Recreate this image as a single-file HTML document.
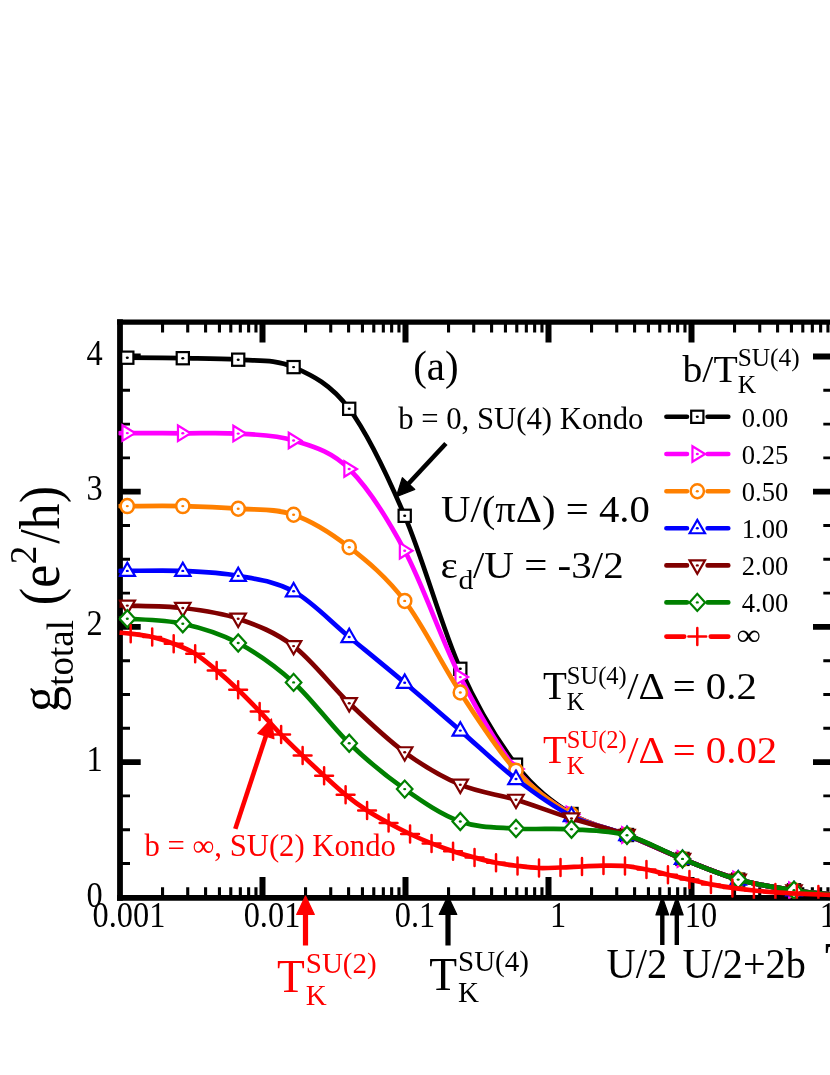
<!DOCTYPE html><html><head><meta charset="utf-8"><style>html,body{margin:0;padding:0;background:#fff}svg{display:block;will-change:transform}</style></head><body>
<svg width="830" height="1075" viewBox="0 0 830 1075" xml:space="preserve" font-family="Liberation Serif, serif">
<rect width="830" height="1075" fill="#fff"/>
<path d="M120.00 319.30 V900.70" stroke="#000" stroke-width="5.8"/><path d="M117.10 322.10 H840" stroke="#000" stroke-width="5.4"/><path d="M117.10 897.80 H840" stroke="#000" stroke-width="5.8"/><path d="M162.55 322 V332.4 M162.55 887.3 V898" stroke="#000" stroke-width="3.1"/><path d="M187.73 322 V332.4 M187.73 887.3 V898" stroke="#000" stroke-width="3.1"/><path d="M205.59 322 V332.4 M205.59 887.3 V898" stroke="#000" stroke-width="3.1"/><path d="M219.45 322 V332.4 M219.45 887.3 V898" stroke="#000" stroke-width="3.1"/><path d="M230.78 322 V332.4 M230.78 887.3 V898" stroke="#000" stroke-width="3.1"/><path d="M240.35 322 V332.4 M240.35 887.3 V898" stroke="#000" stroke-width="3.1"/><path d="M248.64 322 V332.4 M248.64 887.3 V898" stroke="#000" stroke-width="3.1"/><path d="M255.96 322 V332.4 M255.96 887.3 V898" stroke="#000" stroke-width="3.1"/><path d="M262.50 322 V342.5 M262.50 877.1 V898" stroke="#000" stroke-width="6"/><path d="M305.55 322 V332.4 M305.55 887.3 V898" stroke="#000" stroke-width="3.1"/><path d="M330.73 322 V332.4 M330.73 887.3 V898" stroke="#000" stroke-width="3.1"/><path d="M348.59 322 V332.4 M348.59 887.3 V898" stroke="#000" stroke-width="3.1"/><path d="M362.45 322 V332.4 M362.45 887.3 V898" stroke="#000" stroke-width="3.1"/><path d="M373.78 322 V332.4 M373.78 887.3 V898" stroke="#000" stroke-width="3.1"/><path d="M383.35 322 V332.4 M383.35 887.3 V898" stroke="#000" stroke-width="3.1"/><path d="M391.64 322 V332.4 M391.64 887.3 V898" stroke="#000" stroke-width="3.1"/><path d="M398.96 322 V332.4 M398.96 887.3 V898" stroke="#000" stroke-width="3.1"/><path d="M405.50 322 V342.5 M405.50 877.1 V898" stroke="#000" stroke-width="6"/><path d="M448.55 322 V332.4 M448.55 887.3 V898" stroke="#000" stroke-width="3.1"/><path d="M473.73 322 V332.4 M473.73 887.3 V898" stroke="#000" stroke-width="3.1"/><path d="M491.59 322 V332.4 M491.59 887.3 V898" stroke="#000" stroke-width="3.1"/><path d="M505.45 322 V332.4 M505.45 887.3 V898" stroke="#000" stroke-width="3.1"/><path d="M516.78 322 V332.4 M516.78 887.3 V898" stroke="#000" stroke-width="3.1"/><path d="M526.35 322 V332.4 M526.35 887.3 V898" stroke="#000" stroke-width="3.1"/><path d="M534.64 322 V332.4 M534.64 887.3 V898" stroke="#000" stroke-width="3.1"/><path d="M541.96 322 V332.4 M541.96 887.3 V898" stroke="#000" stroke-width="3.1"/><path d="M548.50 322 V342.5 M548.50 877.1 V898" stroke="#000" stroke-width="6"/><path d="M591.55 322 V332.4 M591.55 887.3 V898" stroke="#000" stroke-width="3.1"/><path d="M616.73 322 V332.4 M616.73 887.3 V898" stroke="#000" stroke-width="3.1"/><path d="M634.59 322 V332.4 M634.59 887.3 V898" stroke="#000" stroke-width="3.1"/><path d="M648.45 322 V332.4 M648.45 887.3 V898" stroke="#000" stroke-width="3.1"/><path d="M659.78 322 V332.4 M659.78 887.3 V898" stroke="#000" stroke-width="3.1"/><path d="M669.35 322 V332.4 M669.35 887.3 V898" stroke="#000" stroke-width="3.1"/><path d="M677.64 322 V332.4 M677.64 887.3 V898" stroke="#000" stroke-width="3.1"/><path d="M684.96 322 V332.4 M684.96 887.3 V898" stroke="#000" stroke-width="3.1"/><path d="M691.50 322 V342.5 M691.50 877.1 V898" stroke="#000" stroke-width="6"/><path d="M734.55 322 V332.4 M734.55 887.3 V898" stroke="#000" stroke-width="3.1"/><path d="M759.73 322 V332.4 M759.73 887.3 V898" stroke="#000" stroke-width="3.1"/><path d="M777.59 322 V332.4 M777.59 887.3 V898" stroke="#000" stroke-width="3.1"/><path d="M791.45 322 V332.4 M791.45 887.3 V898" stroke="#000" stroke-width="3.1"/><path d="M802.78 322 V332.4 M802.78 887.3 V898" stroke="#000" stroke-width="3.1"/><path d="M812.35 322 V332.4 M812.35 887.3 V898" stroke="#000" stroke-width="3.1"/><path d="M820.64 322 V332.4 M820.64 887.3 V898" stroke="#000" stroke-width="3.1"/><path d="M827.96 322 V332.4 M827.96 887.3 V898" stroke="#000" stroke-width="3.1"/><path d="M834.50 322 V342.5 M834.50 877.1 V898" stroke="#000" stroke-width="6"/><path d="M120 863.50 H130.0 M823.3 863.50 H835" stroke="#000" stroke-width="2.9"/><path d="M120 829.70 H130.0 M823.3 829.70 H835" stroke="#000" stroke-width="2.9"/><path d="M120 795.90 H130.0 M823.3 795.90 H835" stroke="#000" stroke-width="2.9"/><path d="M120 762.10 H140.7 M813.0 762.10 H835" stroke="#000" stroke-width="5.8"/><path d="M120 728.30 H130.0 M823.3 728.30 H835" stroke="#000" stroke-width="2.9"/><path d="M120 694.50 H130.0 M823.3 694.50 H835" stroke="#000" stroke-width="2.9"/><path d="M120 660.70 H130.0 M823.3 660.70 H835" stroke="#000" stroke-width="2.9"/><path d="M120 626.90 H140.7 M813.0 626.90 H835" stroke="#000" stroke-width="5.8"/><path d="M120 593.10 H130.0 M823.3 593.10 H835" stroke="#000" stroke-width="2.9"/><path d="M120 559.30 H130.0 M823.3 559.30 H835" stroke="#000" stroke-width="2.9"/><path d="M120 525.50 H130.0 M823.3 525.50 H835" stroke="#000" stroke-width="2.9"/><path d="M120 491.70 H140.7 M813.0 491.70 H835" stroke="#000" stroke-width="5.8"/><path d="M120 457.90 H130.0 M823.3 457.90 H835" stroke="#000" stroke-width="2.9"/><path d="M120 424.10 H130.0 M823.3 424.10 H835" stroke="#000" stroke-width="2.9"/><path d="M120 390.30 H130.0 M823.3 390.30 H835" stroke="#000" stroke-width="2.9"/><path d="M120 356.50 H140.7 M813.0 356.50 H835" stroke="#000" stroke-width="5.8"/>
<text transform="translate(129.00 927.40) scale(0.9250 1.0000)" font-size="35.00" fill="#000" text-anchor="middle" >0.001</text>
<text transform="translate(272.00 927.40) scale(0.9250 1.0000)" font-size="35.00" fill="#000" text-anchor="middle" >0.01</text>
<text transform="translate(415.00 927.40) scale(0.9250 1.0000)" font-size="35.00" fill="#000" text-anchor="middle" >0.1</text>
<text transform="translate(558.00 927.40) scale(0.9250 1.0000)" font-size="35.00" fill="#000" text-anchor="middle" >1</text>
<text transform="translate(701.00 927.40) scale(0.9250 1.0000)" font-size="35.00" fill="#000" text-anchor="middle" >10</text>
<text transform="translate(844.00 927.40) scale(0.9250 1.0000)" font-size="35.00" fill="#000" text-anchor="middle" >100</text>
<text transform="translate(102.80 906.60) scale(0.9250 1.0000)" font-size="35.00" fill="#000" text-anchor="end" >0</text>
<text transform="translate(102.80 770.60) scale(0.9250 1.0000)" font-size="35.00" fill="#000" text-anchor="end" >1</text>
<text transform="translate(102.80 635.40) scale(0.9250 1.0000)" font-size="35.00" fill="#000" text-anchor="end" >2</text>
<text transform="translate(102.80 500.20) scale(0.9250 1.0000)" font-size="35.00" fill="#000" text-anchor="end" >3</text>
<text transform="translate(102.80 365.00) scale(0.9250 1.0000)" font-size="35.00" fill="#000" text-anchor="end" >4</text>
<clipPath id="pc"><rect x="118.5" y="320" width="720" height="578.7"/></clipPath><g clip-path="url(#pc)">
<path d="M119.50 357.70 C120.80 357.70 116.75 357.62 127.30 357.70 C137.85 357.78 164.32 357.87 182.80 358.20 C201.28 358.53 219.73 358.22 238.20 359.70 C256.67 361.18 275.10 358.92 293.60 367.10 C312.10 375.28 330.68 384.02 349.20 408.80 C367.72 433.58 386.18 472.47 404.70 515.80 C423.22 559.13 441.75 627.32 460.30 668.80 C478.85 710.28 497.47 740.50 516.00 764.70 C534.53 788.90 553.00 802.28 571.50 814.00 C590.00 825.72 608.50 827.52 627.00 835.00 C645.50 842.48 663.97 851.47 682.50 858.90 C701.03 866.33 719.62 874.37 738.20 879.60 C756.78 884.83 775.45 887.52 794.00 890.30 C812.55 893.08 840.25 895.30 849.50 896.30" fill="none" stroke="#000000" stroke-width="4.7" stroke-linejoin="round"/>
<rect x="121.20" y="351.60" width="12.20" height="12.20" fill="#fff" stroke="#000000" stroke-width="2.2"/><ellipse cx="127.30" cy="357.70" rx="1.55" ry="1.2" fill="#000000"/>
<rect x="176.70" y="352.10" width="12.20" height="12.20" fill="#fff" stroke="#000000" stroke-width="2.2"/><ellipse cx="182.80" cy="358.20" rx="1.55" ry="1.2" fill="#000000"/>
<rect x="232.10" y="353.60" width="12.20" height="12.20" fill="#fff" stroke="#000000" stroke-width="2.2"/><ellipse cx="238.20" cy="359.70" rx="1.55" ry="1.2" fill="#000000"/>
<rect x="287.50" y="361.00" width="12.20" height="12.20" fill="#fff" stroke="#000000" stroke-width="2.2"/><ellipse cx="293.60" cy="367.10" rx="1.55" ry="1.2" fill="#000000"/>
<rect x="343.10" y="402.70" width="12.20" height="12.20" fill="#fff" stroke="#000000" stroke-width="2.2"/><ellipse cx="349.20" cy="408.80" rx="1.55" ry="1.2" fill="#000000"/>
<rect x="398.60" y="509.70" width="12.20" height="12.20" fill="#fff" stroke="#000000" stroke-width="2.2"/><ellipse cx="404.70" cy="515.80" rx="1.55" ry="1.2" fill="#000000"/>
<rect x="454.20" y="662.70" width="12.20" height="12.20" fill="#fff" stroke="#000000" stroke-width="2.2"/><ellipse cx="460.30" cy="668.80" rx="1.55" ry="1.2" fill="#000000"/>
<rect x="509.90" y="758.60" width="12.20" height="12.20" fill="#fff" stroke="#000000" stroke-width="2.2"/><ellipse cx="516.00" cy="764.70" rx="1.55" ry="1.2" fill="#000000"/>
<rect x="565.40" y="807.90" width="12.20" height="12.20" fill="#fff" stroke="#000000" stroke-width="2.2"/><ellipse cx="571.50" cy="814.00" rx="1.55" ry="1.2" fill="#000000"/>
<rect x="620.90" y="828.90" width="12.20" height="12.20" fill="#fff" stroke="#000000" stroke-width="2.2"/><ellipse cx="627.00" cy="835.00" rx="1.55" ry="1.2" fill="#000000"/>
<rect x="676.40" y="852.80" width="12.20" height="12.20" fill="#fff" stroke="#000000" stroke-width="2.2"/><ellipse cx="682.50" cy="858.90" rx="1.55" ry="1.2" fill="#000000"/>
<rect x="732.10" y="873.50" width="12.20" height="12.20" fill="#fff" stroke="#000000" stroke-width="2.2"/><ellipse cx="738.20" cy="879.60" rx="1.55" ry="1.2" fill="#000000"/>
<rect x="787.90" y="884.20" width="12.20" height="12.20" fill="#fff" stroke="#000000" stroke-width="2.2"/><ellipse cx="794.00" cy="890.30" rx="1.55" ry="1.2" fill="#000000"/>
<path d="M119.50 433.10 C120.80 433.10 116.75 433.07 127.30 433.10 C137.85 433.13 164.32 433.22 182.80 433.30 C201.28 433.38 219.73 432.40 238.20 433.60 C256.67 434.80 275.10 434.60 293.60 440.50 C312.10 446.40 330.68 450.63 349.20 469.00 C367.72 487.37 386.18 516.02 404.70 550.70 C423.22 585.38 441.75 640.72 460.30 677.10 C478.85 713.48 497.47 746.10 516.00 769.00 C534.53 791.90 553.00 803.50 571.50 814.50 C590.00 825.50 608.50 827.60 627.00 835.00 C645.50 842.40 663.97 851.47 682.50 858.90 C701.03 866.33 719.62 874.37 738.20 879.60 C756.78 884.83 775.45 887.52 794.00 890.30 C812.55 893.08 840.25 895.30 849.50 896.30" fill="none" stroke="#ff00ff" stroke-width="4.7" stroke-linejoin="round"/>
<path d="M122.45 425.30 L135.10 433.10 L122.45 440.90 Z" fill="#fff" stroke="#ff00ff" stroke-width="2.2" stroke-linejoin="miter"/><ellipse cx="127.30" cy="433.10" rx="1.55" ry="1.2" fill="#ff00ff"/>
<path d="M177.95 425.50 L190.60 433.30 L177.95 441.10 Z" fill="#fff" stroke="#ff00ff" stroke-width="2.2" stroke-linejoin="miter"/><ellipse cx="182.80" cy="433.30" rx="1.55" ry="1.2" fill="#ff00ff"/>
<path d="M233.35 425.80 L246.00 433.60 L233.35 441.40 Z" fill="#fff" stroke="#ff00ff" stroke-width="2.2" stroke-linejoin="miter"/><ellipse cx="238.20" cy="433.60" rx="1.55" ry="1.2" fill="#ff00ff"/>
<path d="M288.75 432.70 L301.40 440.50 L288.75 448.30 Z" fill="#fff" stroke="#ff00ff" stroke-width="2.2" stroke-linejoin="miter"/><ellipse cx="293.60" cy="440.50" rx="1.55" ry="1.2" fill="#ff00ff"/>
<path d="M344.35 461.20 L357.00 469.00 L344.35 476.80 Z" fill="#fff" stroke="#ff00ff" stroke-width="2.2" stroke-linejoin="miter"/><ellipse cx="349.20" cy="469.00" rx="1.55" ry="1.2" fill="#ff00ff"/>
<path d="M399.85 542.90 L412.50 550.70 L399.85 558.50 Z" fill="#fff" stroke="#ff00ff" stroke-width="2.2" stroke-linejoin="miter"/><ellipse cx="404.70" cy="550.70" rx="1.55" ry="1.2" fill="#ff00ff"/>
<path d="M455.45 669.30 L468.10 677.10 L455.45 684.90 Z" fill="#fff" stroke="#ff00ff" stroke-width="2.2" stroke-linejoin="miter"/><ellipse cx="460.30" cy="677.10" rx="1.55" ry="1.2" fill="#ff00ff"/>
<path d="M511.15 761.20 L523.80 769.00 L511.15 776.80 Z" fill="#fff" stroke="#ff00ff" stroke-width="2.2" stroke-linejoin="miter"/><ellipse cx="516.00" cy="769.00" rx="1.55" ry="1.2" fill="#ff00ff"/>
<path d="M566.65 806.70 L579.30 814.50 L566.65 822.30 Z" fill="#fff" stroke="#ff00ff" stroke-width="2.2" stroke-linejoin="miter"/><ellipse cx="571.50" cy="814.50" rx="1.55" ry="1.2" fill="#ff00ff"/>
<path d="M622.15 827.20 L634.80 835.00 L622.15 842.80 Z" fill="#fff" stroke="#ff00ff" stroke-width="2.2" stroke-linejoin="miter"/><ellipse cx="627.00" cy="835.00" rx="1.55" ry="1.2" fill="#ff00ff"/>
<path d="M677.65 851.10 L690.30 858.90 L677.65 866.70 Z" fill="#fff" stroke="#ff00ff" stroke-width="2.2" stroke-linejoin="miter"/><ellipse cx="682.50" cy="858.90" rx="1.55" ry="1.2" fill="#ff00ff"/>
<path d="M733.35 871.80 L746.00 879.60 L733.35 887.40 Z" fill="#fff" stroke="#ff00ff" stroke-width="2.2" stroke-linejoin="miter"/><ellipse cx="738.20" cy="879.60" rx="1.55" ry="1.2" fill="#ff00ff"/>
<path d="M789.15 882.50 L801.80 890.30 L789.15 898.10 Z" fill="#fff" stroke="#ff00ff" stroke-width="2.2" stroke-linejoin="miter"/><ellipse cx="794.00" cy="890.30" rx="1.55" ry="1.2" fill="#ff00ff"/>
<path d="M119.50 506.10 C120.80 506.10 116.75 506.10 127.30 506.10 C137.85 506.10 164.32 505.67 182.80 506.10 C201.28 506.53 219.73 507.27 238.20 508.70 C256.67 510.13 275.10 508.28 293.60 514.70 C312.10 521.12 330.68 532.83 349.20 547.20 C367.72 561.57 386.18 576.68 404.70 600.90 C423.22 625.12 441.75 664.20 460.30 692.50 C478.85 720.80 497.47 750.32 516.00 770.70 C534.53 791.08 553.00 804.08 571.50 814.80 C590.00 825.52 608.50 827.65 627.00 835.00 C645.50 842.35 663.97 851.47 682.50 858.90 C701.03 866.33 719.62 874.37 738.20 879.60 C756.78 884.83 775.45 887.52 794.00 890.30 C812.55 893.08 840.25 895.30 849.50 896.30" fill="none" stroke="#ff8000" stroke-width="4.7" stroke-linejoin="round"/>
<ellipse cx="127.30" cy="506.10" rx="6.6" ry="7.0" fill="#fff" stroke="#ff8000" stroke-width="2.5"/><ellipse cx="127.30" cy="506.10" rx="1.55" ry="1.2" fill="#ff8000"/>
<ellipse cx="182.80" cy="506.10" rx="6.6" ry="7.0" fill="#fff" stroke="#ff8000" stroke-width="2.5"/><ellipse cx="182.80" cy="506.10" rx="1.55" ry="1.2" fill="#ff8000"/>
<ellipse cx="238.20" cy="508.70" rx="6.6" ry="7.0" fill="#fff" stroke="#ff8000" stroke-width="2.5"/><ellipse cx="238.20" cy="508.70" rx="1.55" ry="1.2" fill="#ff8000"/>
<ellipse cx="293.60" cy="514.70" rx="6.6" ry="7.0" fill="#fff" stroke="#ff8000" stroke-width="2.5"/><ellipse cx="293.60" cy="514.70" rx="1.55" ry="1.2" fill="#ff8000"/>
<ellipse cx="349.20" cy="547.20" rx="6.6" ry="7.0" fill="#fff" stroke="#ff8000" stroke-width="2.5"/><ellipse cx="349.20" cy="547.20" rx="1.55" ry="1.2" fill="#ff8000"/>
<ellipse cx="404.70" cy="600.90" rx="6.6" ry="7.0" fill="#fff" stroke="#ff8000" stroke-width="2.5"/><ellipse cx="404.70" cy="600.90" rx="1.55" ry="1.2" fill="#ff8000"/>
<ellipse cx="460.30" cy="692.50" rx="6.6" ry="7.0" fill="#fff" stroke="#ff8000" stroke-width="2.5"/><ellipse cx="460.30" cy="692.50" rx="1.55" ry="1.2" fill="#ff8000"/>
<ellipse cx="516.00" cy="770.70" rx="6.6" ry="7.0" fill="#fff" stroke="#ff8000" stroke-width="2.5"/><ellipse cx="516.00" cy="770.70" rx="1.55" ry="1.2" fill="#ff8000"/>
<ellipse cx="571.50" cy="814.80" rx="6.6" ry="7.0" fill="#fff" stroke="#ff8000" stroke-width="2.5"/><ellipse cx="571.50" cy="814.80" rx="1.55" ry="1.2" fill="#ff8000"/>
<ellipse cx="627.00" cy="835.00" rx="6.6" ry="7.0" fill="#fff" stroke="#ff8000" stroke-width="2.5"/><ellipse cx="627.00" cy="835.00" rx="1.55" ry="1.2" fill="#ff8000"/>
<ellipse cx="682.50" cy="858.90" rx="6.6" ry="7.0" fill="#fff" stroke="#ff8000" stroke-width="2.5"/><ellipse cx="682.50" cy="858.90" rx="1.55" ry="1.2" fill="#ff8000"/>
<ellipse cx="738.20" cy="879.60" rx="6.6" ry="7.0" fill="#fff" stroke="#ff8000" stroke-width="2.5"/><ellipse cx="738.20" cy="879.60" rx="1.55" ry="1.2" fill="#ff8000"/>
<ellipse cx="794.00" cy="890.30" rx="6.6" ry="7.0" fill="#fff" stroke="#ff8000" stroke-width="2.5"/><ellipse cx="794.00" cy="890.30" rx="1.55" ry="1.2" fill="#ff8000"/>
<path d="M119.50 570.90 C120.80 570.90 116.75 570.90 127.30 570.90 C137.85 570.90 164.32 570.07 182.80 570.90 C201.28 571.73 219.73 572.50 238.20 575.90 C256.67 579.30 275.10 581.12 293.60 591.30 C312.10 601.48 330.68 621.75 349.20 637.00 C367.72 652.25 386.18 667.20 404.70 682.80 C423.22 698.40 441.75 714.57 460.30 730.60 C478.85 746.63 497.47 764.77 516.00 779.00 C534.53 793.23 553.00 806.67 571.50 816.00 C590.00 825.33 608.50 827.85 627.00 835.00 C645.50 842.15 663.97 851.47 682.50 858.90 C701.03 866.33 719.62 874.37 738.20 879.60 C756.78 884.83 775.45 887.52 794.00 890.30 C812.55 893.08 840.25 895.30 849.50 896.30" fill="none" stroke="#0000ff" stroke-width="4.7" stroke-linejoin="round"/>
<path d="M119.60 575.95 L127.30 562.60 L135.00 575.95 Z" fill="#fff" stroke="#0000ff" stroke-width="2.2"/><ellipse cx="127.30" cy="570.90" rx="1.55" ry="1.2" fill="#0000ff"/>
<path d="M175.10 575.95 L182.80 562.60 L190.50 575.95 Z" fill="#fff" stroke="#0000ff" stroke-width="2.2"/><ellipse cx="182.80" cy="570.90" rx="1.55" ry="1.2" fill="#0000ff"/>
<path d="M230.50 580.95 L238.20 567.60 L245.90 580.95 Z" fill="#fff" stroke="#0000ff" stroke-width="2.2"/><ellipse cx="238.20" cy="575.90" rx="1.55" ry="1.2" fill="#0000ff"/>
<path d="M285.90 596.35 L293.60 583.00 L301.30 596.35 Z" fill="#fff" stroke="#0000ff" stroke-width="2.2"/><ellipse cx="293.60" cy="591.30" rx="1.55" ry="1.2" fill="#0000ff"/>
<path d="M341.50 642.05 L349.20 628.70 L356.90 642.05 Z" fill="#fff" stroke="#0000ff" stroke-width="2.2"/><ellipse cx="349.20" cy="637.00" rx="1.55" ry="1.2" fill="#0000ff"/>
<path d="M397.00 687.85 L404.70 674.50 L412.40 687.85 Z" fill="#fff" stroke="#0000ff" stroke-width="2.2"/><ellipse cx="404.70" cy="682.80" rx="1.55" ry="1.2" fill="#0000ff"/>
<path d="M452.60 735.65 L460.30 722.30 L468.00 735.65 Z" fill="#fff" stroke="#0000ff" stroke-width="2.2"/><ellipse cx="460.30" cy="730.60" rx="1.55" ry="1.2" fill="#0000ff"/>
<path d="M508.30 784.05 L516.00 770.70 L523.70 784.05 Z" fill="#fff" stroke="#0000ff" stroke-width="2.2"/><ellipse cx="516.00" cy="779.00" rx="1.55" ry="1.2" fill="#0000ff"/>
<path d="M563.80 821.05 L571.50 807.70 L579.20 821.05 Z" fill="#fff" stroke="#0000ff" stroke-width="2.2"/><ellipse cx="571.50" cy="816.00" rx="1.55" ry="1.2" fill="#0000ff"/>
<path d="M619.30 840.05 L627.00 826.70 L634.70 840.05 Z" fill="#fff" stroke="#0000ff" stroke-width="2.2"/><ellipse cx="627.00" cy="835.00" rx="1.55" ry="1.2" fill="#0000ff"/>
<path d="M674.80 863.95 L682.50 850.60 L690.20 863.95 Z" fill="#fff" stroke="#0000ff" stroke-width="2.2"/><ellipse cx="682.50" cy="858.90" rx="1.55" ry="1.2" fill="#0000ff"/>
<path d="M730.50 884.65 L738.20 871.30 L745.90 884.65 Z" fill="#fff" stroke="#0000ff" stroke-width="2.2"/><ellipse cx="738.20" cy="879.60" rx="1.55" ry="1.2" fill="#0000ff"/>
<path d="M786.30 895.35 L794.00 882.00 L801.70 895.35 Z" fill="#fff" stroke="#0000ff" stroke-width="2.2"/><ellipse cx="794.00" cy="890.30" rx="1.55" ry="1.2" fill="#0000ff"/>
<path d="M119.50 605.60 C120.80 605.60 116.75 605.20 127.30 605.60 C137.85 606.00 164.32 605.82 182.80 608.00 C201.28 610.18 219.73 612.35 238.20 618.70 C256.67 625.05 275.10 632.02 293.60 646.10 C312.10 660.18 330.68 685.50 349.20 703.20 C367.72 720.90 386.18 738.72 404.70 752.30 C423.22 765.88 441.75 776.78 460.30 784.70 C478.85 792.62 497.47 794.17 516.00 799.80 C534.53 805.43 553.00 812.63 571.50 818.50 C590.00 824.37 608.50 828.27 627.00 835.00 C645.50 841.73 663.97 851.47 682.50 858.90 C701.03 866.33 719.62 874.37 738.20 879.60 C756.78 884.83 775.45 887.52 794.00 890.30 C812.55 893.08 840.25 895.30 849.50 896.30" fill="none" stroke="#800000" stroke-width="4.7" stroke-linejoin="round"/>
<path d="M119.60 600.55 L127.30 613.90 L135.00 600.55 Z" fill="#fff" stroke="#800000" stroke-width="2.2"/><ellipse cx="127.30" cy="605.60" rx="1.55" ry="1.2" fill="#800000"/>
<path d="M175.10 602.95 L182.80 616.30 L190.50 602.95 Z" fill="#fff" stroke="#800000" stroke-width="2.2"/><ellipse cx="182.80" cy="608.00" rx="1.55" ry="1.2" fill="#800000"/>
<path d="M230.50 613.65 L238.20 627.00 L245.90 613.65 Z" fill="#fff" stroke="#800000" stroke-width="2.2"/><ellipse cx="238.20" cy="618.70" rx="1.55" ry="1.2" fill="#800000"/>
<path d="M285.90 641.05 L293.60 654.40 L301.30 641.05 Z" fill="#fff" stroke="#800000" stroke-width="2.2"/><ellipse cx="293.60" cy="646.10" rx="1.55" ry="1.2" fill="#800000"/>
<path d="M341.50 698.15 L349.20 711.50 L356.90 698.15 Z" fill="#fff" stroke="#800000" stroke-width="2.2"/><ellipse cx="349.20" cy="703.20" rx="1.55" ry="1.2" fill="#800000"/>
<path d="M397.00 747.25 L404.70 760.60 L412.40 747.25 Z" fill="#fff" stroke="#800000" stroke-width="2.2"/><ellipse cx="404.70" cy="752.30" rx="1.55" ry="1.2" fill="#800000"/>
<path d="M452.60 779.65 L460.30 793.00 L468.00 779.65 Z" fill="#fff" stroke="#800000" stroke-width="2.2"/><ellipse cx="460.30" cy="784.70" rx="1.55" ry="1.2" fill="#800000"/>
<path d="M508.30 794.75 L516.00 808.10 L523.70 794.75 Z" fill="#fff" stroke="#800000" stroke-width="2.2"/><ellipse cx="516.00" cy="799.80" rx="1.55" ry="1.2" fill="#800000"/>
<path d="M563.80 813.45 L571.50 826.80 L579.20 813.45 Z" fill="#fff" stroke="#800000" stroke-width="2.2"/><ellipse cx="571.50" cy="818.50" rx="1.55" ry="1.2" fill="#800000"/>
<path d="M619.30 829.95 L627.00 843.30 L634.70 829.95 Z" fill="#fff" stroke="#800000" stroke-width="2.2"/><ellipse cx="627.00" cy="835.00" rx="1.55" ry="1.2" fill="#800000"/>
<path d="M674.80 853.85 L682.50 867.20 L690.20 853.85 Z" fill="#fff" stroke="#800000" stroke-width="2.2"/><ellipse cx="682.50" cy="858.90" rx="1.55" ry="1.2" fill="#800000"/>
<path d="M730.50 874.55 L738.20 887.90 L745.90 874.55 Z" fill="#fff" stroke="#800000" stroke-width="2.2"/><ellipse cx="738.20" cy="879.60" rx="1.55" ry="1.2" fill="#800000"/>
<path d="M786.30 885.25 L794.00 898.60 L801.70 885.25 Z" fill="#fff" stroke="#800000" stroke-width="2.2"/><ellipse cx="794.00" cy="890.30" rx="1.55" ry="1.2" fill="#800000"/>
<path d="M119.50 618.70 C120.80 618.70 116.75 617.87 127.30 618.70 C137.85 619.53 164.32 619.65 182.80 623.70 C201.28 627.75 219.73 633.22 238.20 643.00 C256.67 652.78 275.10 665.68 293.60 682.40 C312.10 699.12 330.68 725.52 349.20 743.30 C367.72 761.08 386.18 776.07 404.70 789.10 C423.22 802.13 441.75 814.93 460.30 821.50 C478.85 828.07 497.47 827.20 516.00 828.50 C534.53 829.80 553.00 828.18 571.50 829.30 C590.00 830.42 608.50 830.27 627.00 835.20 C645.50 840.13 663.97 851.50 682.50 858.90 C701.03 866.30 719.62 874.37 738.20 879.60 C756.78 884.83 775.45 887.52 794.00 890.30 C812.55 893.08 840.25 895.30 849.50 896.30" fill="none" stroke="#008000" stroke-width="4.7" stroke-linejoin="round"/>
<path d="M119.50 618.70 L127.30 610.15 L135.10 618.70 L127.30 627.25 Z" fill="#fff" stroke="#008000" stroke-width="2.2"/><ellipse cx="127.30" cy="618.70" rx="1.55" ry="1.2" fill="#008000"/>
<path d="M175.00 623.70 L182.80 615.15 L190.60 623.70 L182.80 632.25 Z" fill="#fff" stroke="#008000" stroke-width="2.2"/><ellipse cx="182.80" cy="623.70" rx="1.55" ry="1.2" fill="#008000"/>
<path d="M230.40 643.00 L238.20 634.45 L246.00 643.00 L238.20 651.55 Z" fill="#fff" stroke="#008000" stroke-width="2.2"/><ellipse cx="238.20" cy="643.00" rx="1.55" ry="1.2" fill="#008000"/>
<path d="M285.80 682.40 L293.60 673.85 L301.40 682.40 L293.60 690.95 Z" fill="#fff" stroke="#008000" stroke-width="2.2"/><ellipse cx="293.60" cy="682.40" rx="1.55" ry="1.2" fill="#008000"/>
<path d="M341.40 743.30 L349.20 734.75 L357.00 743.30 L349.20 751.85 Z" fill="#fff" stroke="#008000" stroke-width="2.2"/><ellipse cx="349.20" cy="743.30" rx="1.55" ry="1.2" fill="#008000"/>
<path d="M396.90 789.10 L404.70 780.55 L412.50 789.10 L404.70 797.65 Z" fill="#fff" stroke="#008000" stroke-width="2.2"/><ellipse cx="404.70" cy="789.10" rx="1.55" ry="1.2" fill="#008000"/>
<path d="M452.50 821.50 L460.30 812.95 L468.10 821.50 L460.30 830.05 Z" fill="#fff" stroke="#008000" stroke-width="2.2"/><ellipse cx="460.30" cy="821.50" rx="1.55" ry="1.2" fill="#008000"/>
<path d="M508.20 828.50 L516.00 819.95 L523.80 828.50 L516.00 837.05 Z" fill="#fff" stroke="#008000" stroke-width="2.2"/><ellipse cx="516.00" cy="828.50" rx="1.55" ry="1.2" fill="#008000"/>
<path d="M563.70 829.30 L571.50 820.75 L579.30 829.30 L571.50 837.85 Z" fill="#fff" stroke="#008000" stroke-width="2.2"/><ellipse cx="571.50" cy="829.30" rx="1.55" ry="1.2" fill="#008000"/>
<path d="M619.20 835.20 L627.00 826.65 L634.80 835.20 L627.00 843.75 Z" fill="#fff" stroke="#008000" stroke-width="2.2"/><ellipse cx="627.00" cy="835.20" rx="1.55" ry="1.2" fill="#008000"/>
<path d="M674.70 858.90 L682.50 850.35 L690.30 858.90 L682.50 867.45 Z" fill="#fff" stroke="#008000" stroke-width="2.2"/><ellipse cx="682.50" cy="858.90" rx="1.55" ry="1.2" fill="#008000"/>
<path d="M730.40 879.60 L738.20 871.05 L746.00 879.60 L738.20 888.15 Z" fill="#fff" stroke="#008000" stroke-width="2.2"/><ellipse cx="738.20" cy="879.60" rx="1.55" ry="1.2" fill="#008000"/>
<path d="M786.20 890.30 L794.00 881.75 L801.80 890.30 L794.00 898.85 Z" fill="#fff" stroke="#008000" stroke-width="2.2"/><ellipse cx="794.00" cy="890.30" rx="1.55" ry="1.2" fill="#008000"/>
<path d="M119.50 632.60 C121.37 632.78 125.25 632.97 130.70 633.70 C136.15 634.43 145.03 635.33 152.19 637.00 C159.35 638.67 166.52 640.92 173.68 643.70 C180.84 646.48 188.01 649.25 195.17 653.70 C202.33 658.15 209.50 664.38 216.66 670.40 C223.82 676.42 230.99 682.95 238.15 689.80 C245.31 696.65 252.48 704.03 259.64 711.50 C266.80 718.97 273.97 727.25 281.13 734.60 C288.29 741.95 295.46 748.75 302.62 755.60 C309.78 762.45 316.95 769.17 324.11 775.70 C331.27 782.23 338.44 789.00 345.60 794.80 C352.76 800.60 359.93 805.80 367.09 810.50 C374.25 815.20 381.42 819.08 388.58 823.00 C395.74 826.92 402.91 830.60 410.07 834.00 C417.23 837.40 424.40 840.53 431.56 843.40 C438.72 846.27 445.89 848.85 453.05 851.20 C460.21 853.55 467.38 855.57 474.54 857.50 C481.70 859.43 488.87 861.40 496.03 862.80 C503.19 864.20 510.36 865.03 517.52 865.90 C524.68 866.77 531.85 867.73 539.01 868.00 C546.17 868.27 553.34 867.75 560.50 867.50 C567.66 867.25 574.83 866.82 581.99 866.50 C589.15 866.18 596.32 865.68 603.48 865.60 C610.64 865.52 617.81 865.35 624.97 866.00 C632.13 866.65 639.30 868.05 646.46 869.50 C653.62 870.95 660.79 873.02 667.95 874.70 C675.11 876.38 682.28 877.98 689.44 879.60 C696.60 881.22 703.77 883.02 710.93 884.40 C718.09 885.78 725.26 886.88 732.42 887.90 C739.58 888.92 746.75 889.75 753.91 890.50 C761.07 891.25 768.24 891.88 775.40 892.40 C782.56 892.92 789.73 893.27 796.89 893.60 C804.05 893.93 811.19 894.12 818.38 894.40 C825.56 894.68 836.40 895.15 840.00 895.30" fill="none" stroke="#ff0000" stroke-width="4.7" stroke-linejoin="round"/>
<path d="M121.80 633.70 H139.60 M130.70 625.20 V642.20" stroke="#ff0000" stroke-width="2.5" stroke-linecap="round" fill="none"/>
<path d="M143.29 637.00 H161.09 M152.19 628.50 V645.50" stroke="#ff0000" stroke-width="2.5" stroke-linecap="round" fill="none"/>
<path d="M164.78 643.70 H182.58 M173.68 635.20 V652.20" stroke="#ff0000" stroke-width="2.5" stroke-linecap="round" fill="none"/>
<path d="M186.27 653.70 H204.07 M195.17 645.20 V662.20" stroke="#ff0000" stroke-width="2.5" stroke-linecap="round" fill="none"/>
<path d="M207.76 670.40 H225.56 M216.66 661.90 V678.90" stroke="#ff0000" stroke-width="2.5" stroke-linecap="round" fill="none"/>
<path d="M229.25 689.80 H247.05 M238.15 681.30 V698.30" stroke="#ff0000" stroke-width="2.5" stroke-linecap="round" fill="none"/>
<path d="M250.74 711.50 H268.54 M259.64 703.00 V720.00" stroke="#ff0000" stroke-width="2.5" stroke-linecap="round" fill="none"/>
<path d="M272.23 734.60 H290.03 M281.13 726.10 V743.10" stroke="#ff0000" stroke-width="2.5" stroke-linecap="round" fill="none"/>
<path d="M293.72 755.60 H311.52 M302.62 747.10 V764.10" stroke="#ff0000" stroke-width="2.5" stroke-linecap="round" fill="none"/>
<path d="M315.21 775.70 H333.01 M324.11 767.20 V784.20" stroke="#ff0000" stroke-width="2.5" stroke-linecap="round" fill="none"/>
<path d="M336.70 794.80 H354.50 M345.60 786.30 V803.30" stroke="#ff0000" stroke-width="2.5" stroke-linecap="round" fill="none"/>
<path d="M358.19 810.50 H375.99 M367.09 802.00 V819.00" stroke="#ff0000" stroke-width="2.5" stroke-linecap="round" fill="none"/>
<path d="M379.68 823.00 H397.48 M388.58 814.50 V831.50" stroke="#ff0000" stroke-width="2.5" stroke-linecap="round" fill="none"/>
<path d="M401.17 834.00 H418.97 M410.07 825.50 V842.50" stroke="#ff0000" stroke-width="2.5" stroke-linecap="round" fill="none"/>
<path d="M422.66 843.40 H440.46 M431.56 834.90 V851.90" stroke="#ff0000" stroke-width="2.5" stroke-linecap="round" fill="none"/>
<path d="M444.15 851.20 H461.95 M453.05 842.70 V859.70" stroke="#ff0000" stroke-width="2.5" stroke-linecap="round" fill="none"/>
<path d="M465.64 857.50 H483.44 M474.54 849.00 V866.00" stroke="#ff0000" stroke-width="2.5" stroke-linecap="round" fill="none"/>
<path d="M487.13 862.80 H504.93 M496.03 854.30 V871.30" stroke="#ff0000" stroke-width="2.5" stroke-linecap="round" fill="none"/>
<path d="M508.62 865.90 H526.42 M517.52 857.40 V874.40" stroke="#ff0000" stroke-width="2.5" stroke-linecap="round" fill="none"/>
<path d="M530.11 868.00 H547.91 M539.01 859.50 V876.50" stroke="#ff0000" stroke-width="2.5" stroke-linecap="round" fill="none"/>
<path d="M551.60 867.50 H569.40 M560.50 859.00 V876.00" stroke="#ff0000" stroke-width="2.5" stroke-linecap="round" fill="none"/>
<path d="M573.09 866.50 H590.89 M581.99 858.00 V875.00" stroke="#ff0000" stroke-width="2.5" stroke-linecap="round" fill="none"/>
<path d="M594.58 865.60 H612.38 M603.48 857.10 V874.10" stroke="#ff0000" stroke-width="2.5" stroke-linecap="round" fill="none"/>
<path d="M616.07 866.00 H633.87 M624.97 857.50 V874.50" stroke="#ff0000" stroke-width="2.5" stroke-linecap="round" fill="none"/>
<path d="M637.56 869.50 H655.36 M646.46 861.00 V878.00" stroke="#ff0000" stroke-width="2.5" stroke-linecap="round" fill="none"/>
<path d="M659.05 874.70 H676.85 M667.95 866.20 V883.20" stroke="#ff0000" stroke-width="2.5" stroke-linecap="round" fill="none"/>
<path d="M680.54 879.60 H698.34 M689.44 871.10 V888.10" stroke="#ff0000" stroke-width="2.5" stroke-linecap="round" fill="none"/>
<path d="M702.03 884.40 H719.83 M710.93 875.90 V892.90" stroke="#ff0000" stroke-width="2.5" stroke-linecap="round" fill="none"/>
<path d="M723.52 887.90 H741.32 M732.42 879.40 V896.40" stroke="#ff0000" stroke-width="2.5" stroke-linecap="round" fill="none"/>
<path d="M745.01 890.50 H762.81 M753.91 882.00 V899.00" stroke="#ff0000" stroke-width="2.5" stroke-linecap="round" fill="none"/>
<path d="M766.50 892.40 H784.30 M775.40 883.90 V900.90" stroke="#ff0000" stroke-width="2.5" stroke-linecap="round" fill="none"/>
<path d="M787.99 893.60 H805.79 M796.89 885.10 V902.10" stroke="#ff0000" stroke-width="2.5" stroke-linecap="round" fill="none"/>
<path d="M809.48 894.40 H827.28 M818.38 885.90 V902.90" stroke="#ff0000" stroke-width="2.5" stroke-linecap="round" fill="none"/>
</g>
<path d="M666.4 416.80 H687.0 M707.6 416.80 H728.3" stroke="#000000" stroke-width="4.6" stroke-linecap="round"/>
<rect x="691.20" y="410.70" width="12.20" height="12.20" fill="#fff" stroke="#000000" stroke-width="2.2"/><ellipse cx="697.30" cy="416.80" rx="1.55" ry="1.2" fill="#000000"/>
<text transform="translate(741.80 426.80) scale(0.9500 1.0000)" font-size="28.00" fill="#000" text-anchor="start" >0.00</text>
<path d="M666.4 454.00 H687.0 M707.6 454.00 H728.3" stroke="#ff00ff" stroke-width="4.6" stroke-linecap="round"/>
<path d="M692.45 446.20 L705.10 454.00 L692.45 461.80 Z" fill="#fff" stroke="#ff00ff" stroke-width="2.2" stroke-linejoin="miter"/><ellipse cx="697.30" cy="454.00" rx="1.55" ry="1.2" fill="#ff00ff"/>
<text transform="translate(741.80 464.00) scale(0.9500 1.0000)" font-size="28.00" fill="#000" text-anchor="start" >0.25</text>
<path d="M666.4 491.20 H687.0 M707.6 491.20 H728.3" stroke="#ff8000" stroke-width="4.6" stroke-linecap="round"/>
<ellipse cx="697.30" cy="491.20" rx="6.6" ry="7.0" fill="#fff" stroke="#ff8000" stroke-width="2.5"/><ellipse cx="697.30" cy="491.20" rx="1.55" ry="1.2" fill="#ff8000"/>
<text transform="translate(741.80 501.20) scale(0.9500 1.0000)" font-size="28.00" fill="#000" text-anchor="start" >0.50</text>
<path d="M666.4 528.20 H687.0 M707.6 528.20 H728.3" stroke="#0000ff" stroke-width="4.6" stroke-linecap="round"/>
<path d="M689.60 533.25 L697.30 519.90 L705.00 533.25 Z" fill="#fff" stroke="#0000ff" stroke-width="2.2"/><ellipse cx="697.30" cy="528.20" rx="1.55" ry="1.2" fill="#0000ff"/>
<text transform="translate(741.80 538.20) scale(0.9500 1.0000)" font-size="28.00" fill="#000" text-anchor="start" >1.00</text>
<path d="M666.4 565.40 H687.0 M707.6 565.40 H728.3" stroke="#800000" stroke-width="4.6" stroke-linecap="round"/>
<path d="M689.60 560.35 L697.30 573.70 L705.00 560.35 Z" fill="#fff" stroke="#800000" stroke-width="2.2"/><ellipse cx="697.30" cy="565.40" rx="1.55" ry="1.2" fill="#800000"/>
<text transform="translate(741.80 575.40) scale(0.9500 1.0000)" font-size="28.00" fill="#000" text-anchor="start" >2.00</text>
<path d="M666.4 602.40 H687.0 M707.6 602.40 H728.3" stroke="#008000" stroke-width="4.6" stroke-linecap="round"/>
<path d="M689.50 602.40 L697.30 593.85 L705.10 602.40 L697.30 610.95 Z" fill="#fff" stroke="#008000" stroke-width="2.2"/><ellipse cx="697.30" cy="602.40" rx="1.55" ry="1.2" fill="#008000"/>
<text transform="translate(741.80 612.40) scale(0.9500 1.0000)" font-size="28.00" fill="#000" text-anchor="start" >4.00</text>
<path d="M666.4 636.60 H684.2 M710.7 636.60 H728.3" stroke="#ff0000" stroke-width="4.6" stroke-linecap="round"/>
<path d="M688.40 636.60 H706.20 M697.30 628.10 V645.10" stroke="#ff0000" stroke-width="2.5" stroke-linecap="round" fill="none"/>
<text transform="translate(736.60 645.10) scale(1.1400 1.0000)" font-size="30.00" fill="#000" text-anchor="start" >∞</text>
<g transform="translate(682.50 382.00) scale(1.0450 1.0000)" fill="#000"><text x="0" y="0" font-size="38.00">b/</text><text x="29.56" y="0" font-size="38.00">T</text><text x="52.78" y="-16.30" font-size="24.30">SU(4)</text><text x="52.78" y="11.00" font-size="24.30">K</text></g>
<text transform="translate(413.20 379.70) scale(0.9750 1.0000)" font-size="42.00" fill="#000" text-anchor="start" >(a)</text>
<text transform="translate(398.20 428.50) scale(0.9910 1.0000)" font-size="31.00" fill="#000" text-anchor="start" >b = 0, SU(4) Kondo</text>
<text transform="translate(441.00 521.60) scale(1.0720 1.0000)" font-size="38.00" fill="#000" text-anchor="start" >U/(πΔ) = 4.0</text>
<g transform="translate(440.5 578.4) scale(1.08 1)"><text font-size="38">ε</text><text x="16.6" y="10.2" font-size="27.5">d</text><text x="30" font-size="38">/U = -3/2</text></g>
<g transform="translate(543.00 698.60) scale(1.0000 1.0000)" fill="#000"><text x="0.00" y="0" font-size="39.00">T</text><text x="23.83" y="-14.80" font-size="24.50">SU(4)</text><text x="23.83" y="11.00" font-size="24.50">K</text><text transform="translate(84.21 0) scale(1.045 1)" font-size="39.00">/Δ = 0.2</text></g>
<g transform="translate(543.00 762.80) scale(1.0000 1.0000)" fill="#ff0000"><text x="0.00" y="0" font-size="39.00">T</text><text x="23.83" y="-14.80" font-size="24.50">SU(2)</text><text x="23.83" y="11.00" font-size="24.50">K</text><text transform="translate(84.21 0) scale(1.045 1)" font-size="39.00">/Δ = 0.02</text></g>
<text transform="translate(144.50 855.90) scale(0.9900 1.0000)" font-size="31.00" fill="#ff0000" text-anchor="start" >b = ∞, SU(2) Kondo</text>
<g transform="translate(277.00 992.20) scale(1.0000 1.0000)" fill="#ff0000"><text x="0.00" y="0" font-size="45.50">T</text><text x="28.80" y="-19.50" font-size="29.00">SU(2)</text><text x="28.80" y="12.50" font-size="29.00">K</text></g>
<g transform="translate(429.20 990.20) scale(1.0000 1.0000)" fill="#000"><text x="0.00" y="0" font-size="45.50">T</text><text x="28.80" y="-19.20" font-size="29.00">SU(4)</text><text x="28.80" y="12.10" font-size="29.00">K</text></g>
<text transform="translate(606.60 977.60) scale(0.9650 1.0000)" font-size="41.80" fill="#000" text-anchor="start" >U/2</text>
<text transform="translate(682.60 977.60) scale(0.9620 1.0000)" font-size="41.80" fill="#000" text-anchor="start" >U/2+2b</text>
<text transform="translate(824.70 981.60) scale(1.0000 1.0000)" font-size="58.00" fill="#000" text-anchor="start" >T</text>
<path d="M445.90 443.50 L407.21 485.00" stroke="#000" stroke-width="4.6"/><path d="M396.30 496.70 L402.36 477.74 L414.79 489.33 Z" fill="#000" stroke="#000" stroke-width="1.2" stroke-linejoin="round"/>
<path d="M235.30 828.90 L266.49 734.20" stroke="#ff0000" stroke-width="4.6"/><path d="M271.50 719.00 L273.94 738.76 L257.80 733.44 Z" fill="#ff0000" stroke="#ff0000" stroke-width="1.2" stroke-linejoin="round"/>
<path d="M305.50 945.50 L305.50 912.50" stroke="#ff0000" stroke-width="5.2"/><path d="M305.50 896.00 L314.30 914.50 L296.70 914.50 Z" fill="#ff0000" stroke="#ff0000" stroke-width="1.2" stroke-linejoin="round"/>
<path d="M448.00 945.50 L448.00 912.50" stroke="#000" stroke-width="5.2"/><path d="M448.00 896.00 L456.80 914.50 L439.20 914.50 Z" fill="#000" stroke="#000" stroke-width="1.2" stroke-linejoin="round"/>
<path d="M662.30 945.00 L662.30 913.00" stroke="#000" stroke-width="4.4"/><path d="M662.30 897.00 L668.65 915.00 L655.95 915.00 Z" fill="#000" stroke="#000" stroke-width="1.2" stroke-linejoin="round"/>
<path d="M676.80 945.00 L676.80 913.00" stroke="#000" stroke-width="4.4"/><path d="M676.80 897.00 L683.15 915.00 L670.45 915.00 Z" fill="#000" stroke="#000" stroke-width="1.2" stroke-linejoin="round"/>
<g transform="translate(59.2 710.5) rotate(-90)"><text transform="translate(-1.46 0) scale(0.930 1)" font-size="56">g</text><text x="24.7" y="14.1" font-size="37">total</text><text transform="translate(105.30 0) scale(0.930 1)" font-size="56">(e</text><text x="146.2" y="-23.2" font-size="37">2</text><text transform="translate(166.65 0) scale(0.930 1)" font-size="56">/h)</text></g>
</svg></body></html>
